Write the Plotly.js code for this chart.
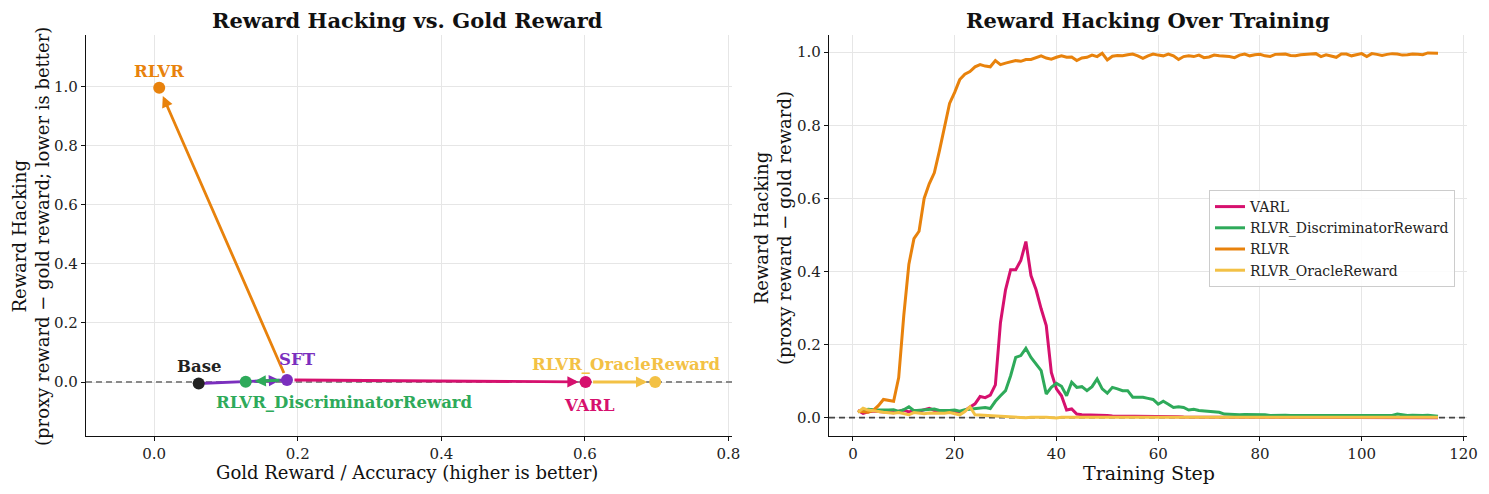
<!DOCTYPE html>
<html>
<head>
<meta charset="utf-8">
<script src="https://cdn.plot.ly/plotly-3.0.1.min.js"></script>
<style>
  html, body { margin: 0; padding: 0; background: #fff; }
  #chart { width: 1489px; height: 494px; }
</style>
</head>
<body>
<div id="chart"></div>
<script>
// ---- Left panel: final gold reward vs. reward hacking per model ----
const modelNames    = ['Base', 'SFT', 'RLVR', 'RLVR_DiscriminatorReward', 'VARL', 'RLVR_OracleReward'];
const goldReward    = [0.062, 0.185, 0.007, 0.1275, 0.601, 0.698];
const rewardHacking = [-0.005, 0.007, 0.997, 0.001, 0.000, 0.000];
// training transitions drawn as arrows: [from, to]
const transitions = [
  ['Base', 'SFT'],
  ['SFT', 'RLVR_DiscriminatorReward'],
  ['SFT', 'RLVR'],
  ['SFT', 'VARL'],
  ['VARL', 'RLVR_OracleReward']
];

// ---- Right panel: reward hacking over training steps ----
const varlHacking = [
  0.020, 0.012, 0.016, 0.018, 0.017, 0.016, 0.015, 0.014, 0.018, 0.021,
  0.016, 0.020, 0.018, 0.022, 0.026, 0.020, 0.019, 0.017, 0.016, 0.017,
  0.015, 0.020, 0.028, 0.038, 0.058, 0.055, 0.062, 0.090, 0.260, 0.350,
  0.405, 0.405, 0.430, 0.482, 0.389, 0.350, 0.298, 0.252, 0.124, 0.079,
  0.060, 0.021, 0.024, 0.010, 0.008, 0.008, 0.007, 0.007, 0.006, 0.006,
  0.005, 0.005, 0.005, 0.004, 0.004, 0.004, 0.004, 0.003, 0.003, 0.003,
  0.003, 0.003, 0.003, 0.003, 0.002, 0.002, 0.002, 0.002, 0.002, 0.002,
  0.002, 0.002, 0.002, 0.002, 0.002, 0.002, 0.002, 0.002, 0.002, 0.002,
  0.001, 0.002, 0.001, 0.001, 0.002, 0.001, 0.001, 0.001, 0.002, 0.001,
  0.001, 0.001, 0.001, 0.001, 0.001, 0.001, 0.001, 0.001, 0.001, 0.001,
  0.001, 0.000, 0.001, 0.000, 0.001, 0.000, 0.001, 0.000, 0.000, 0.001,
  0.000, 0.000, 0.001, 0.000, 0.000
];
const discHacking = [
  0.016, 0.020, 0.023, 0.022, 0.021, 0.020, 0.021, 0.022, 0.017, 0.022,
  0.030, 0.019, 0.020, 0.020, 0.022, 0.024, 0.020, 0.019, 0.020, 0.021,
  0.018, 0.022, 0.024, 0.026, 0.027, 0.028, 0.025, 0.045, 0.060, 0.074,
  0.115, 0.165, 0.170, 0.190, 0.165, 0.147, 0.129, 0.065, 0.083, 0.094,
  0.086, 0.060, 0.097, 0.083, 0.085, 0.074, 0.085, 0.106, 0.079, 0.067,
  0.083, 0.079, 0.074, 0.074, 0.056, 0.056, 0.056, 0.053, 0.050, 0.037,
  0.045, 0.037, 0.028, 0.030, 0.028, 0.021, 0.023, 0.020, 0.019, 0.018,
  0.017, 0.015, 0.010, 0.009, 0.009, 0.008, 0.009, 0.009, 0.007, 0.008,
  0.008, 0.006, 0.007, 0.006, 0.007, 0.006, 0.006, 0.007, 0.006, 0.006,
  0.007, 0.006, 0.007, 0.006, 0.006, 0.007, 0.006, 0.006, 0.005, 0.006,
  0.007, 0.006, 0.006, 0.006, 0.005, 0.006, 0.010, 0.007, 0.006, 0.007,
  0.006, 0.006, 0.007, 0.005, 0.004
];
const rlvrHacking = [
  0.018, 0.016, 0.015, 0.020, 0.033, 0.050, 0.047, 0.045, 0.110, 0.280,
  0.420, 0.490, 0.510, 0.600, 0.640, 0.670, 0.730, 0.800, 0.860, 0.890,
  0.925, 0.940, 0.947, 0.960, 0.966, 0.962, 0.960, 0.977, 0.966, 0.970,
  0.973, 0.977, 0.975, 0.980, 0.980, 0.985, 0.990, 0.984, 0.981, 0.986,
  0.990, 0.986, 0.987, 0.977, 0.984, 0.986, 0.992, 0.988, 0.997, 0.979,
  0.989, 0.991, 0.990, 0.993, 0.995, 0.990, 0.983, 0.990, 0.995, 0.992,
  0.990, 0.995, 0.990, 0.980, 0.988, 0.990, 0.988, 0.992, 0.985, 0.987,
  0.992, 0.990, 0.990, 0.988, 0.985, 0.992, 0.995, 0.990, 0.993, 0.994,
  0.990, 0.988, 0.994, 0.995, 0.995, 0.991, 0.990, 0.993, 0.993, 0.995,
  0.996, 0.988, 0.993, 0.990, 0.986, 0.995, 0.995, 0.990, 0.993, 0.996,
  0.988, 0.996, 0.994, 0.991, 0.994, 0.996, 0.995, 0.992, 0.993, 0.995,
  0.994, 0.993, 0.998, 0.997, 0.997
];
const oracleHacking = [
  0.015, 0.026, 0.021, 0.018, 0.017, 0.015, 0.014, 0.012, 0.014, 0.010,
  0.008, 0.014, 0.012, 0.011, 0.013, 0.012, 0.011, 0.012, 0.014, 0.011,
  0.008, 0.017, 0.030, 0.008, 0.007, 0.006, 0.005, 0.004, 0.003, 0.003,
  0.002, 0.002, 0.001, 0.000, 0.001, 0.000, 0.001, 0.001, 0.000, -0.001,
  0.001, 0.001, 0.002, 0.002, 0.003, 0.003, 0.002, 0.002, 0.002, 0.002,
  0.002, 0.002, 0.001, 0.002, 0.001, 0.001, 0.002, 0.001, 0.001, 0.001,
  0.001, 0.001, 0.001, 0.001, 0.001, 0.001, 0.001, 0.001, 0.001, 0.001,
  0.001, 0.001, 0.001, 0.001, 0.001, 0.001, 0.001, 0.001, 0.001, 0.001,
  0.001, 0.001, 0.001, 0.001, 0.001, 0.001, 0.001, 0.001, 0.001, 0.001,
  0.001, 0.001, 0.001, 0.001, 0.001, 0.001, 0.001, 0.001, 0.001, 0.001,
  0.001, 0.001, 0.001, 0.001, 0.001, 0.001, 0.001, 0.001, 0.001, 0.001,
  0.001, 0.001, 0.001, 0.001, 0.001
];
const trainingSteps = varlHacking.map((_, i) => i + 1);

// ---- axis ranges ----
const leftXRange  = [-0.095, 0.805];
const leftYRange  = [-0.183, 1.176];
const rightXRange = [-4.7, 120.7];
const rightYRange = [-0.05, 1.047];

// ---- styling ----
const FONT = 'DejaVu Serif, Liberation Serif, serif';
const COLORS = {
  'Base': '#222222',
  'SFT': '#7B2FBE',
  'RLVR': '#E8820C',
  'RLVR_DiscriminatorReward': '#2EAA5A',
  'VARL': '#D6106E',
  'RLVR_OracleReward': '#F3C145'
};
// label offsets (px) from each model's point
const LABEL_SHIFT = {
  'Base': [0, 17],
  'SFT': [11, 20],
  'RLVR': [0, 16],
  'RLVR_DiscriminatorReward': [99, -21],
  'VARL': [4, -23],
  'RLVR_OracleReward': [-29, 18]
};
// arrow tip distance (px) from the target point
const ARROW_STANDOFF = {
  'SFT': 7, 'RLVR_DiscriminatorReward': 9, 'RLVR': 9, 'VARL': 7, 'RLVR_OracleReward': 8
};

const idx = name => modelNames.indexOf(name);
const traces = [];
const annotations = [];

// zero reference lines (above the grid, below the data)
traces.push({
  x: leftXRange, y: [0, 0], xaxis: 'x', yaxis: 'y', mode: 'lines',
  showlegend: false, hoverinfo: 'skip',
  line: { color: '#8a8a8a', width: 1.8, dash: '6px,4px' }
});
traces.push({
  x: rightXRange, y: [0, 0], xaxis: 'x2', yaxis: 'y2', mode: 'lines',
  showlegend: false, hoverinfo: 'skip',
  line: { color: '#454545', width: 1.8, dash: '6px,4px' }
});

// the Base -> SFT shaft runs underneath the intermediate marker
transitions.forEach(([from, to]) => {
  if (from === 'Base') {
    traces.push({
      x: [goldReward[idx(from)], goldReward[idx(to)]],
      y: [rewardHacking[idx(from)], rewardHacking[idx(to)]],
      xaxis: 'x', yaxis: 'y', mode: 'lines', showlegend: false, hoverinfo: 'skip',
      line: { color: COLORS[to], width: 2.8 }
    });
  }
});

// model markers
traces.push({
  x: goldReward, y: rewardHacking, text: modelNames,
  xaxis: 'x', yaxis: 'y', mode: 'markers', showlegend: false,
  marker: { size: 12, color: modelNames.map(n => COLORS[n]) }
});

// arrows between models
transitions.forEach(([from, to]) => {
  let tail = idx(from);
  let startOff = 6;
  if (from === 'Base') { tail = idx('RLVR_DiscriminatorReward'); startOff = 7; }
  annotations.push({
    xref: 'x', yref: 'y', axref: 'x', ayref: 'y',
    x: goldReward[idx(to)], y: rewardHacking[idx(to)],
    ax: goldReward[tail], ay: rewardHacking[tail],
    text: '', showarrow: true, arrowhead: 2, arrowsize: 0.8, arrowwidth: 2.8,
    arrowcolor: COLORS[to], standoff: ARROW_STANDOFF[to], startstandoff: startOff
  });
});

// model labels
modelNames.forEach((n, i) => {
  annotations.push({
    xref: 'x', yref: 'y', x: goldReward[i], y: rewardHacking[i],
    xshift: LABEL_SHIFT[n][0], yshift: LABEL_SHIFT[n][1],
    text: '<b>' + n + '</b>', showarrow: false,
    font: { family: FONT, size: 16.5, color: COLORS[n] }
  });
});

// training curves
[
  ['VARL', varlHacking],
  ['RLVR_DiscriminatorReward', discHacking],
  ['RLVR', rlvrHacking],
  ['RLVR_OracleReward', oracleHacking]
].forEach(([name, values]) => {
  traces.push({
    x: trainingSteps, y: values, name: name,
    xaxis: 'x2', yaxis: 'y2', mode: 'lines',
    line: { color: COLORS[name], width: 3 }
  });
});

// titles and axis titles
const textAnn = (text, x, y, size, opts) => Object.assign({
  xref: 'paper', yref: 'paper', x: x, y: y, text: text, showarrow: false,
  xanchor: 'center', yanchor: 'middle',
  font: { family: FONT, size: size, color: '#111' }
}, opts || {});
annotations.push(
  textAnn('<b>Reward Hacking vs. Gold Reward</b>', 407 / 1489, 1 - 20 / 494, 21),
  textAnn('<b>Reward Hacking Over Training</b>', 1148 / 1489, 1 - 20 / 494, 21),
  textAnn('Gold Reward / Accuracy (higher is better)', 407 / 1489, 1 - 472 / 494, 18),
  textAnn('Training Step', 1149 / 1489, 1 - 473 / 494, 19),
  textAnn('Reward Hacking<br>(proxy reward − gold reward; lower is better)', 31 / 1489, 1 - 237 / 494, 18, { textangle: -90 }),
  textAnn('Reward Hacking<br>(proxy reward − gold reward)', 773 / 1489, 1 - 228 / 494, 18, { textangle: -90 })
);

const axisCommon = {
  showgrid: true, gridcolor: '#e6e6e6', gridwidth: 1,
  zeroline: false, showline: true, linecolor: '#111', linewidth: 1.2,
  ticks: 'outside', ticklen: 4, tickcolor: '#111',
  tickfont: { family: FONT, size: 15, color: '#222' }
};
const yTop = 1 - 35 / 494, yBottom = 1 - 436 / 494;

const layout = {
  width: 1489, height: 494,
  margin: { l: 0, r: 0, t: 0, b: 0 },
  paper_bgcolor: '#ffffff', plot_bgcolor: '#ffffff',
  font: { family: FONT, color: '#222' },
  showlegend: true,
  legend: {
    x: 1209 / 1489, y: 1 - 190 / 494, xanchor: 'left', yanchor: 'top',
    bgcolor: 'rgba(255,255,255,0.85)', bordercolor: '#cccccc', borderwidth: 1,
    font: { family: FONT, size: 14, color: '#222' }
  },
  xaxis: Object.assign({}, axisCommon, {
    domain: [86 / 1489, 732 / 1489], range: leftXRange, dtick: 0.2, tickformat: '.1f'
  }),
  yaxis: Object.assign({}, axisCommon, {
    domain: [yBottom, yTop], range: leftYRange, dtick: 0.2, tickformat: '.1f'
  }),
  xaxis2: Object.assign({}, axisCommon, {
    anchor: 'y2', domain: [829 / 1489, 1467 / 1489], range: rightXRange, dtick: 20
  }),
  yaxis2: Object.assign({}, axisCommon, {
    anchor: 'x2', domain: [yBottom, yTop], range: rightYRange, dtick: 0.2, tickformat: '.1f'
  }),
  annotations: annotations
};

Plotly.newPlot('chart', traces, layout, { displayModeBar: false, staticPlot: true });
</script>
</body>
</html>
